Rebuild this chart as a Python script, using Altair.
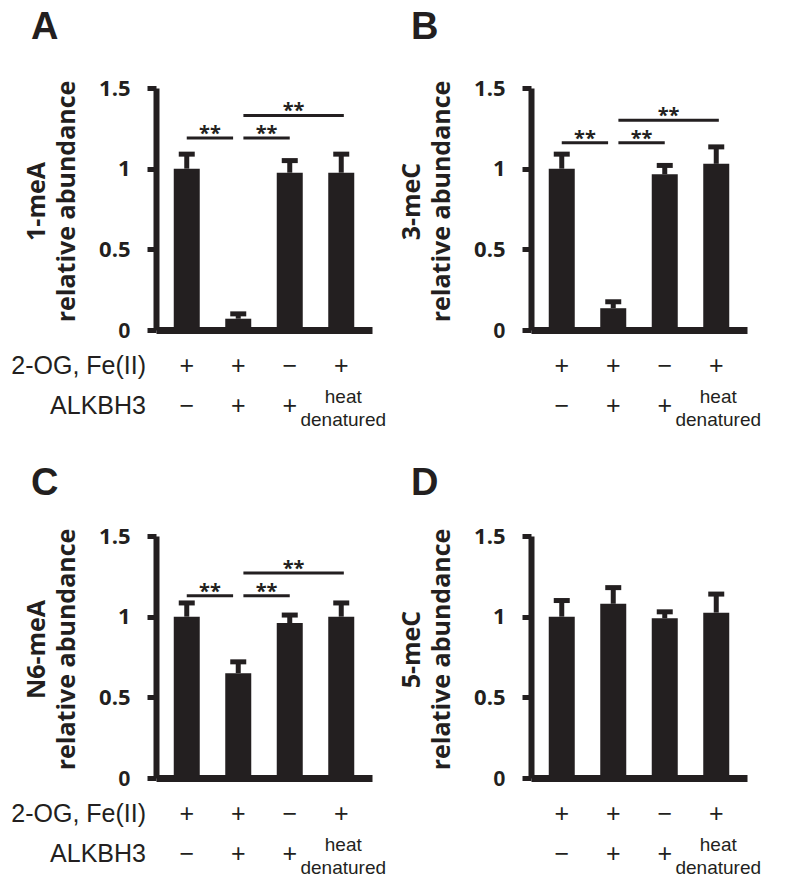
import altair as alt
import pandas as pd

INK = "#231f20"

# ---- data ----
og_fe_row = ["+", "+", "−", "+"]
alkbh3_row = ["−", "+", "+", "heat\ndenatured"]
row_titles = ["2-OG, Fe(II)", "ALKBH3"]

letters = ["A", "B", "C", "D"]
y_titles = [
    ["1-meA", "relative abundance"],
    ["3-meC", "relative abundance"],
    ["N6-meA", "relative abundance"],
    ["5-meC", "relative abundance"],
]

a_mean = [1.00, 0.07, 0.975, 0.975]
a_sd = [0.09, 0.03, 0.075, 0.115]
b_mean = [1.00, 0.135, 0.965, 1.03]
b_sd = [0.09, 0.04, 0.055, 0.105]
c_mean = [1.00, 0.65, 0.96, 1.00]
c_sd = [0.085, 0.07, 0.05, 0.085]
d_mean = [1.00, 1.08, 0.99, 1.025]
d_sd = [0.10, 0.10, 0.04, 0.115]

sig_pairs = [(0, 1), (1, 2), (1, 3)]
sig_label = "**"
a_sig_y = [1.19, 1.19, 1.33]
b_sig_y = [1.16, 1.16, 1.30]
c_sig_y = [1.13, 1.13, 1.27]
d_sig_y = []

GAP = 0.1
OVER = 0.05


def panel(letter, ytitle, mean, sd, sig_y, show_row_titles, letter_dx, letter_dy):
    df = pd.DataFrame({
        "pos": [i + 0.5 for i in range(4)],
        "mean": mean,
        "upper": [m + s for m, s in zip(mean, sd)],
        "og": og_fe_row,
        "alk": alkbh3_row,
    })
    xs = alt.X("pos:Q", scale=alt.Scale(domain=[0, 4], nice=False, zero=False),
               axis=alt.Axis(title=None, labels=False, ticks=False, grid=False,
                             domainWidth=7, domainColor=INK))
    ys = alt.Y("mean:Q", scale=alt.Scale(domain=[0, 1.5], nice=False),
               axis=alt.Axis(values=[0, 0.5, 1, 1.5], labelExpr="'' + datum.value",
                             title=ytitle, titleFont="Open Sans", titleFontWeight="bold",
                             titleFontSize=25, titleLineHeight=30, titleColor=INK,
                             titlePadding=19, titleY=113,
                             labelFont={"condition": {"test": "datum.value === 0",
                                                      "value": "Liberation Sans"},
                                        "value": "Open Sans"},
                             labelFontWeight="bold",
                             labelFontSize=22, labelColor=INK, labelPadding=17,
                             tickSize=9, tickWidth=5, tickColor=INK,
                             domainWidth=6, domainColor=INK, grid=False))
    base = alt.Chart(df)
    layers = [
        base.mark_bar(size=26, color=INK).encode(x=xs, y=ys),
        base.mark_rule(strokeWidth=5, color=INK).encode(x="pos:Q", y="mean:Q", y2="upper:Q"),
        base.mark_tick(orient="horizontal", size=16, thickness=5, color=INK, opacity=1)
            .encode(x="pos:Q", y="upper:Q"),
    ]
    if sig_y:
        rows = []
        for (i, j), yv in zip(sig_pairs, sig_y):
            x1 = i + 0.5 + (GAP if i == 1 else 0)
            x2 = j + 0.5 - (GAP if j == 1 else 0) + (OVER if j == 3 else 0)
            rows.append({"x1": x1, "x2": x2, "mid": (x1 + x2) / 2, "y": yv, "lab": sig_label})
        sdf = pd.DataFrame(rows)
        sb = alt.Chart(sdf)
        layers.append(sb.mark_rule(strokeWidth=3, color=INK).encode(x="x1:Q", x2="x2:Q", y="y:Q"))
        layers.append(sb.mark_text(font="Open Sans", fontWeight="bold", fontSize=20, color=INK,
                                   baseline="alphabetic", dy=2)
                      .encode(x="mid:Q", y="y:Q", text="lab:N"))
    layers.append(base.mark_text(font="Liberation Sans", fontSize=25, color=INK, baseline="middle")
                  .encode(x="pos:Q", y=alt.value(278), text="og:N"))
    layers.append(base.transform_filter("length(datum.alk) == 1")
                  .mark_text(font="Liberation Sans", fontSize=25, color=INK, baseline="middle")
                  .encode(x="pos:Q", y=alt.value(318), text="alk:N"))
    layers.append(base.transform_filter("length(datum.alk) > 1")
                  .mark_text(font="Liberation Sans", fontSize=19, color=INK, baseline="middle",
                             lineBreak="\n", lineHeight=23, dx=2)
                  .encode(x="pos:Q", y=alt.value(309), text="alk:N"))
    if show_row_titles:
        for t, yy in zip(row_titles, [278, 318]):
            layers.append(alt.Chart(pd.DataFrame({"t": [t]}))
                          .mark_text(font="Liberation Sans", fontSize=25, color=INK,
                                     baseline="middle", align="right")
                          .encode(x=alt.value(-10), y=alt.value(yy), text="t:N"))
    return alt.layer(*layers).properties(
        width=216, height=242,
        title=alt.TitleParams(letter, anchor="start", frame="group", dx=letter_dx,
                              dy=letter_dy, offset=0, baseline="alphabetic",
                              font="Liberation Sans", fontSize=38, fontWeight="bold",
                              color=INK))


pA = panel(letters[0], y_titles[0], a_mean, a_sd, a_sig_y, True, -125, 0)
pB = panel(letters[1], y_titles[1], b_mean, b_sd, b_sig_y, False, -120, 0)
pC = panel(letters[2], y_titles[2], c_mean, c_sd, c_sig_y, True, -125, 8)
pD = panel(letters[3], y_titles[3], d_mean, d_sd, d_sig_y, False, -120, 8)

chart = alt.concat(pA, pB, pC, pD, columns=2, spacing={"row": 206, "column": 159},
                   bounds="flush").configure_view(stroke=None).properties(
    padding={"left": 3, "top": 1, "right": 5, "bottom": 5})

chart.save("out.html", embed_options={"renderer": "svg", "actions": False})
